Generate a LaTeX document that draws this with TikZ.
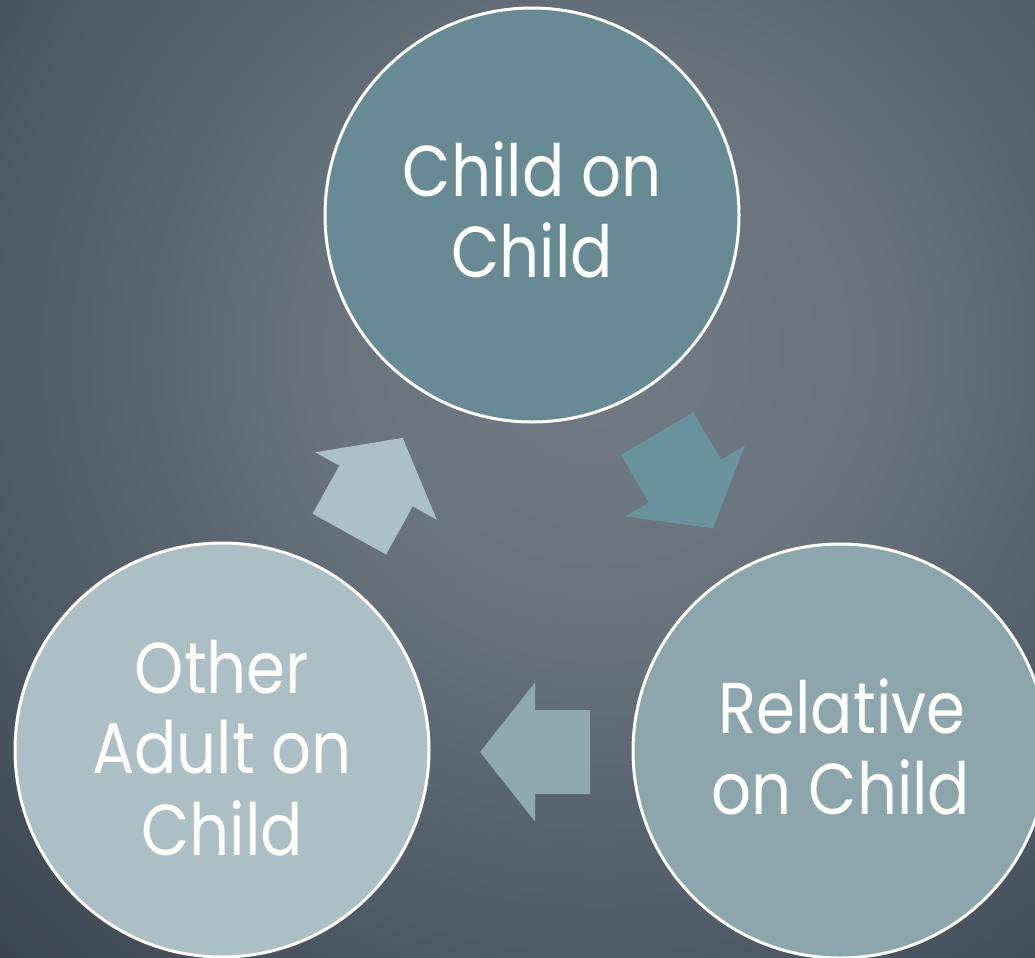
\documentclass[tikz,border=0pt]{standalone}
\usepackage{fontspec}
\setmainfont{Poppins}[FakeStretch=0.87]
\definecolor{g0}{HTML}{707B86}
\definecolor{g1}{HTML}{67727D}
\definecolor{g2}{HTML}{5B6772}
\definecolor{g3}{HTML}{4F5B66}
\definecolor{g4}{HTML}{38434F}
\definecolor{ctop}{HTML}{678A94}
\definecolor{cright}{HTML}{8DA5AD}
\definecolor{cleft}{HTML}{ADBFC6}
\definecolor{adr}{HTML}{6A939C}
\definecolor{aleft}{HTML}{8FA9B0}
\definecolor{aup}{HTML}{AEC0C7}
\tikzset{
  circ/.style={circle, draw=white, line width=2.25pt, minimum size=414*0.75pt, inner sep=0pt},
  lbl/.style={text=white, font=\fontsize{54}{60}\selectfont, inner sep=0pt, anchor=base},
  blk/.style={draw=none},
}
\newcommand{\blockarrow}[3]{% center, angle, color
  \fill[blk, #3, shift={#1}, rotate=#2] (55,0) -- (0,69.5) -- (0,42) -- (-55,42) -- (-55,-42) -- (0,-42) -- (0,-69.5) -- cycle;
}
\begin{document}
\begin{tikzpicture}[x=0.75pt,y=-0.75pt]
\useasboundingbox (0,0) rectangle (1035,957);
\clip (0,0) rectangle (1035,957);
\fill[g4] (0,0) rectangle (1035,957);
\coordinate (bgc) at (600,350);
\foreach \ra/\rb/\ca/\cb in {880/600/g4/g3, 600/420/g3/g2, 420/300/g2/g1, 300/0/g1/g0}{
  \pgfmathtruncatemacro{\n}{(\ra-\rb)/6}
  \foreach \k in {0,...,\n}{
    \pgfmathsetmacro{\r}{(\ra-6*\k)*0.75}
    \pgfmathtruncatemacro{\p}{100*\k/\n}
    \fill[\cb!\p!\ca] (bgc) circle[radius=\r pt];
  }
}

\node[circ, fill=ctop] (top) at (532,215) {};
\node[circ, fill=cright] (right) at (840,751) {};
\node[circ, fill=cleft] (left) at (222,750) {};

\node[lbl] (top1) at (532,196) {Child on};
\node[lbl] (top2) at (532,277) {Child};
\node[lbl] (right1) at (842,733) {Relative};
\node[lbl] (right2) at (841,814) {on Child};
\node[lbl] (left1) at (222,693) {Other};
\node[lbl] (left2) at (222,773) {Adult on};
\node[lbl] (left3) at (222,855) {Child};

\blockarrow{(376,486)}{61}{aup}
\blockarrow{(685,481)}{-59.4}{adr}
\blockarrow{(535,752)}{180}{aleft}
\end{tikzpicture}
\end{document}
